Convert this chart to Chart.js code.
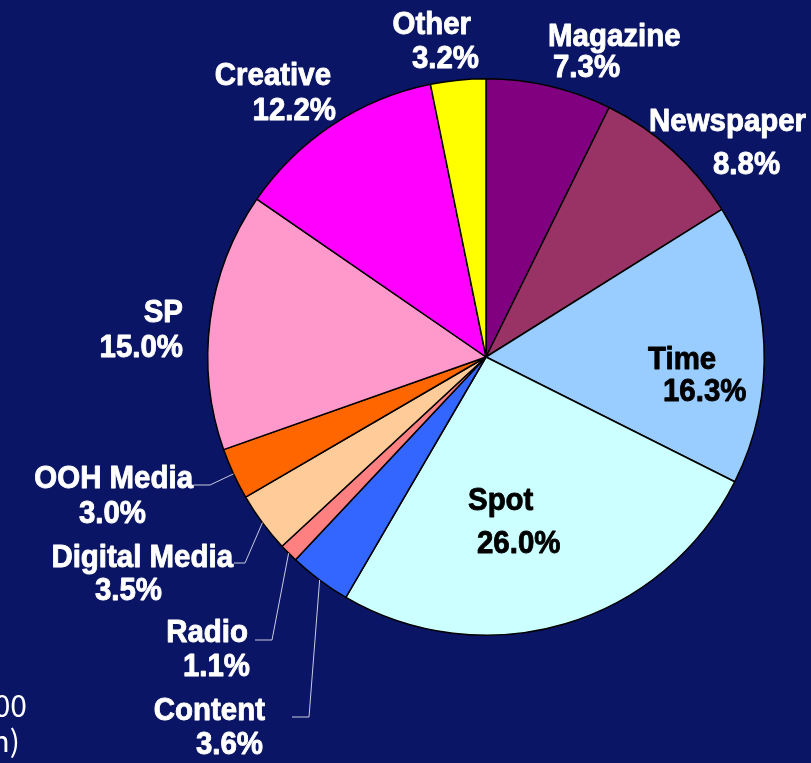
<!DOCTYPE html>
<html lang="en">
<head>
<meta charset="UTF-8" />
<title>Advertising Expenditure Share by Medium</title>
<style>
  body { margin: 0; background: #0b1565; }
  .wrap { position: relative; width: 811px; height: 763px; }
</style>
<script src="https://cdn.jsdelivr.net/npm/chart.js"></script>
</head>
<body>
<div class="wrap"><canvas id="pieChart"></canvas></div>
<script>
  // Share of total spend (%), clockwise from 12 o'clock
  const categories = ["Magazine", "Newspaper", "Time", "Spot", "Content", "Radio",
                      "Digital Media", "OOH Media", "SP", "Creative", "Other"];
  const shares = [7.3, 8.8, 16.3, 26.0, 3.6, 1.1, 3.5, 3.0, 15.0, 12.2, 3.2];
  const sliceColors = ["#800080", "#993366", "#99ccff", "#ccffff", "#3366ff", "#ff8080",
                       "#ffcc99", "#ff6600", "#ff99cc", "#ff00ff", "#ffff00"];
  const totalLines = ["1,000", "(billion)"];

  // where each label sits: [x, baseline] per line, plus optional leader elbow
  const labelLayout = [
    { align: "left",  lines: [[548, 46], [553, 77]] },
    { align: "left",  lines: [[649, 131], [713, 174]] },
    { align: "left",  lines: [[648, 369], [663, 401]], color: "#000" },
    { align: "left",  lines: [[468, 510], [477, 553]], color: "#000" },
    { align: "right", lines: [[265, 720], [263, 754]], leader: [[292, 717], [309, 717]] },
    { align: "right", lines: [[248, 642], [250, 676]], leader: [[255, 640], [272, 640]] },
    { align: "right", lines: [[233, 567], [162, 600]], leader: [[234, 563], [245, 563]] },
    { align: "right", lines: [[193, 488], [146, 523]], leader: [[194, 485], [210, 485]] },
    { align: "right", lines: [[183, 322], [183, 357]] },
    { align: "right", lines: [[331, 85],  [336, 120]] },
    { align: "right", lines: [[471, 34],  [479, 68]] }
  ];

  const sliceLabels = {
    id: "sliceLabels",
    afterDatasetsDraw(chart) {
      const ctx = chart.ctx;
      const arcs = chart.getDatasetMeta(0).data;
      ctx.save();
      labelLayout.forEach((lab, i) => {
        if (lab.leader) {
          const p = arcs[i].getProps(["x", "y", "startAngle", "endAngle", "outerRadius"], true);
          const mid = (p.startAngle + p.endAngle) / 2;
          ctx.strokeStyle = "#c8cce0";
          ctx.lineWidth = 1;
          ctx.beginPath();
          ctx.moveTo(lab.leader[0][0], lab.leader[0][1]);
          ctx.lineTo(lab.leader[1][0], lab.leader[1][1]);
          ctx.lineTo(p.x + Math.cos(mid) * p.outerRadius, p.y + Math.sin(mid) * p.outerRadius);
          ctx.stroke();
        }
        const col = lab.color || "#ffffff";
        ctx.fillStyle = col;
        ctx.strokeStyle = col;
        ctx.lineWidth = 0.9;
        ctx.lineJoin = "round";
        ctx.font = "bold 32px 'Liberation Sans', Arial, sans-serif";
        ctx.textAlign = lab.align;
        ctx.textBaseline = "alphabetic";
        lab.lines.forEach((pos, k) => {
          const text = k === 0 ? categories[i] : shares[i].toFixed(1) + "%";
          ctx.save();
          ctx.translate(pos[0], pos[1]);
          ctx.scale(0.92, 1);
          ctx.fillText(text, 0, 0);
          ctx.strokeText(text, 0, 0);
          ctx.restore();
        });
      });

      // total note, running off the left edge
      ctx.fillStyle = "#ffffff";
      ctx.font = "30px 'Noto Sans CJK JP', sans-serif";
      ctx.textAlign = "right";
      ctx.fillText(totalLines[0], 27, 717);
      ctx.fillText(totalLines[1], 20, 752);
      ctx.restore();
    }
  };

  new Chart(document.getElementById("pieChart"), {
    type: "pie",
    data: {
      labels: categories,
      datasets: [{
        data: shares,
        backgroundColor: sliceColors,
        borderColor: "#000000",
        borderWidth: 1.5
      }]
    },
    options: {
      responsive: true,
      maintainAspectRatio: false,
      animation: false,
      layout: { padding: { left: 207, right: 46, top: 78, bottom: 127 } },
      plugins: {
        legend: { display: false },
        tooltip: { enabled: false }
      }
    },
    plugins: [sliceLabels]
  });
</script>
</body>
</html>
